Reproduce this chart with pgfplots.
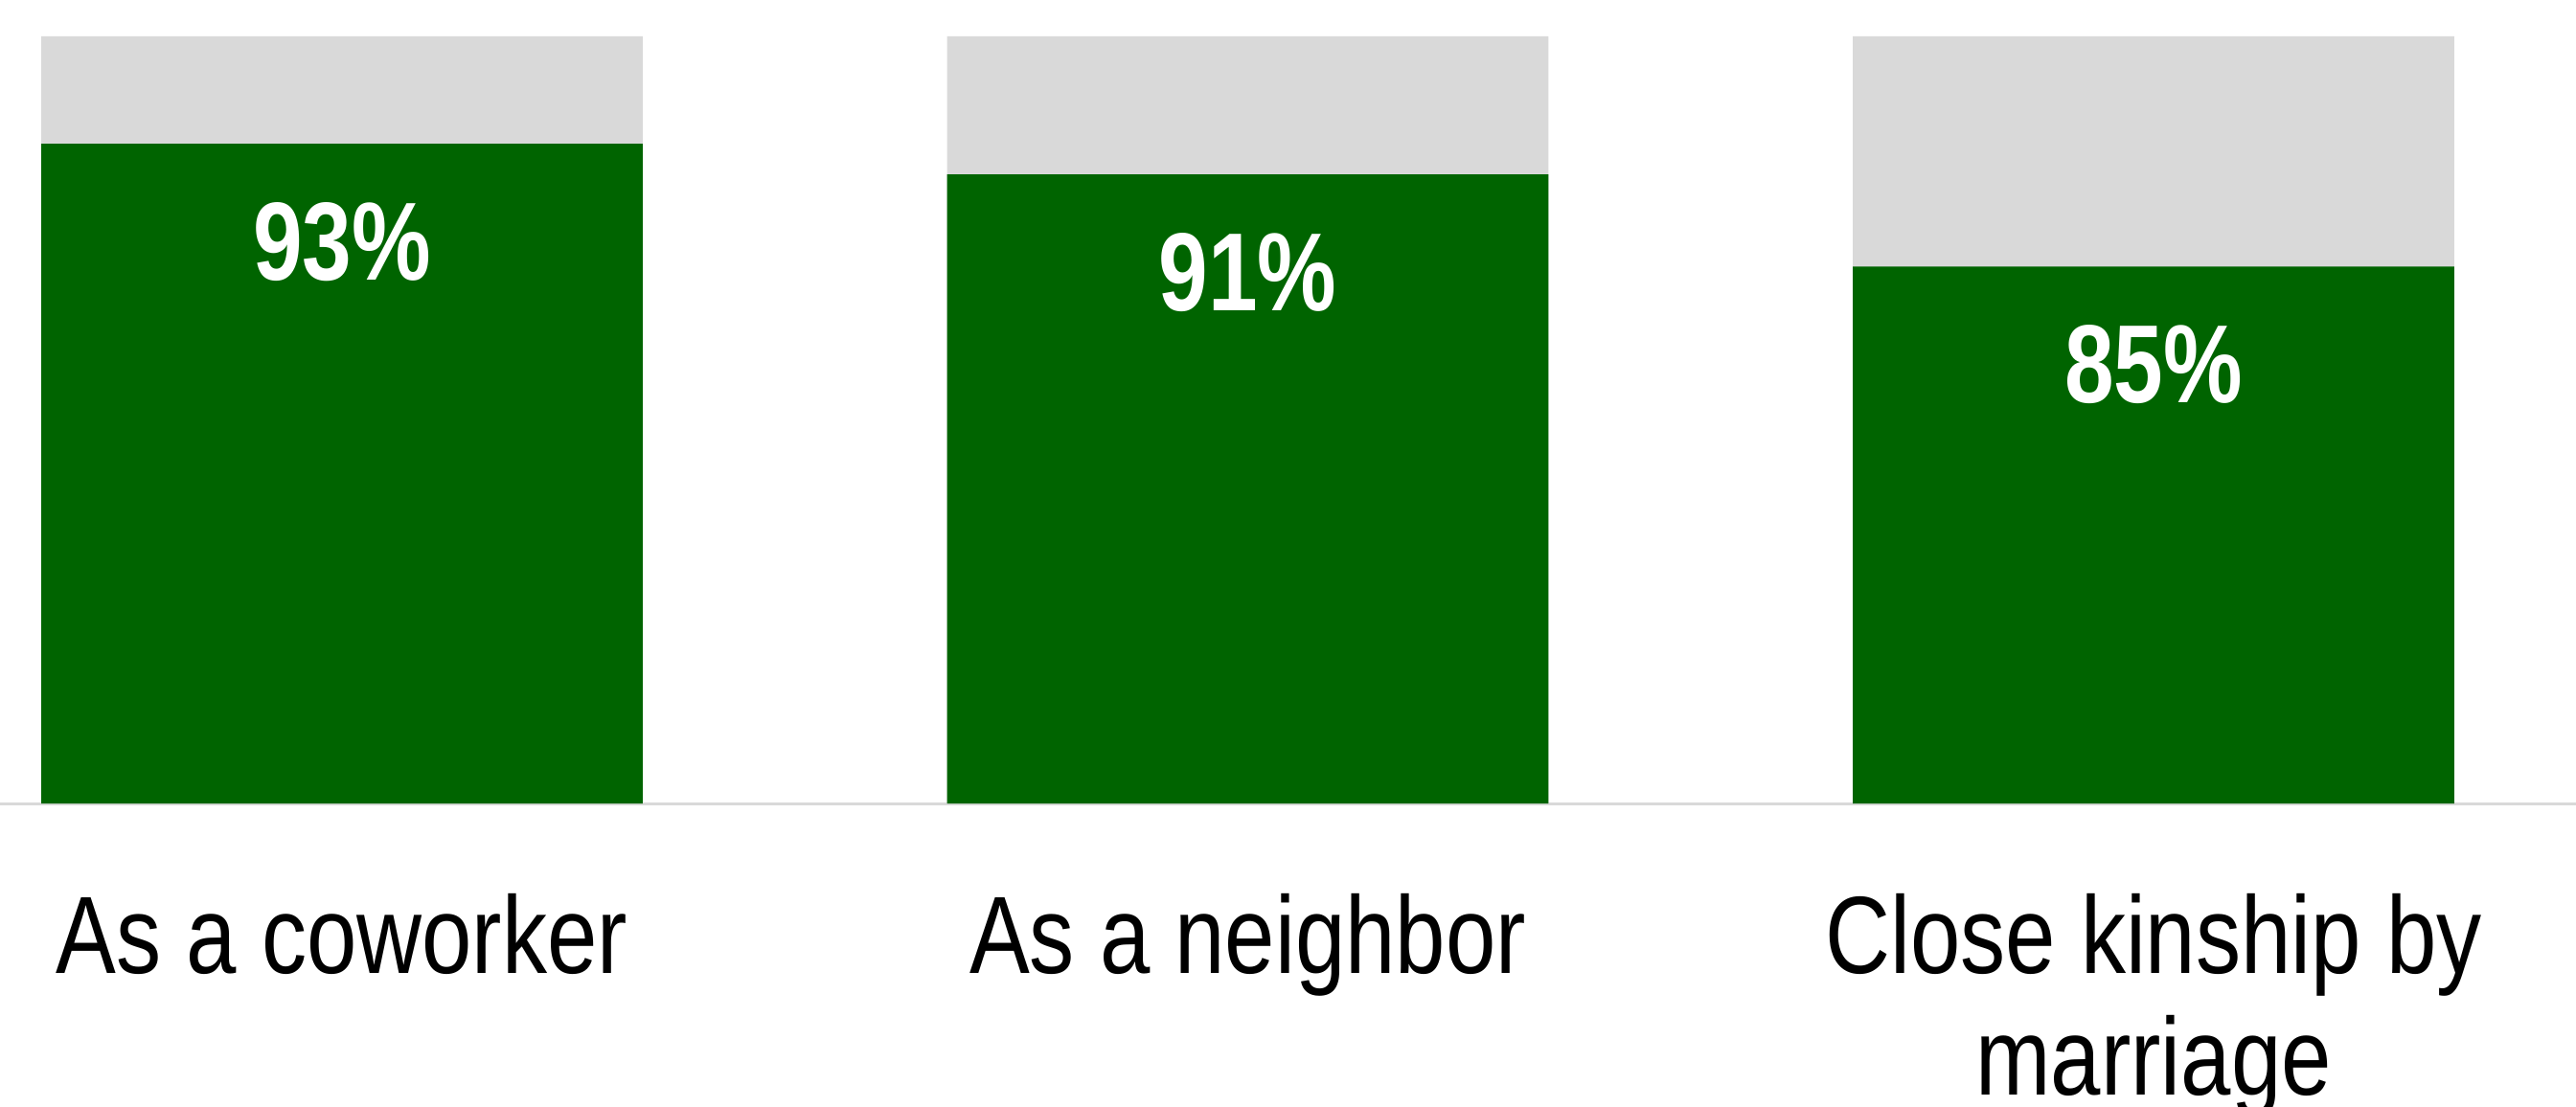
\documentclass[border=0pt]{standalone}
\usepackage{fontspec}
\setmainfont{Liberation Sans}
\newfontfamily\narrow[FakeStretch=0.82]{Liberation Sans}
\newfontfamily\pctfont[FakeStretch=0.80]{Liberation Sans}
\usepackage{pgfplots}
\pgfplotsset{compat=1.18}
\definecolor{bargreen}{HTML}{006400}
\definecolor{restgray}{HTML}{D9D9D9}

\begin{document}
\begin{tikzpicture}
\begin{axis}[
    scale only axis,
    width=672.25pt,
    height=200.25pt,
    xmin=-0.3776, xmax=2.4664,
    ymin=50, ymax=100,
    ybar, bar shift=0pt,
    bar width=0.664,
    axis x line*=bottom,
    axis y line=none,
    x axis line style={draw=restgray, line width=0.75pt, -},
    xtick={0,1,2},
    xticklabels={As a coworker, As a neighbor, {Close kinship by\\marriage}},
    major tick length=0pt,
    ytick=\empty,
    xticklabel style={
        anchor=north, yshift=-20pt, align=center,
        font=\narrow\fontsize{28.7}{31.75}\selectfont, text=black
    },
]
% total (100%) behind, share on top
\addplot[fill=restgray, draw=none]
    coordinates {(0,100) (1,100) (2,100)};
\addplot[fill=bargreen, draw=none,
    nodes near coords={\pgfmathprintnumber[assume math mode=true]{\pgfplotspointmeta}\%},
    nodes near coords style={anchor=base, yshift=-35.5pt, text=white,
        font=\pctfont\bfseries\fontsize{29}{29}\selectfont}]
    coordinates {(0,93) (1,91) (2,85)};
\end{axis}
\pgfresetboundingbox
\useasboundingbox ([yshift=-79.25pt]current axis.south west) rectangle ([yshift=9.5pt]current axis.north east);
\end{tikzpicture}
\end{document}
